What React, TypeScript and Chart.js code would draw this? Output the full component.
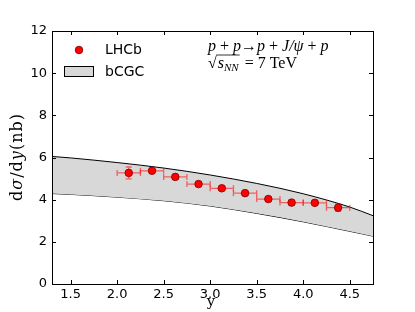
import React, { useEffect, useRef } from "react";
import { Chart, registerables } from "chart.js";

Chart.register(...registerables);

// LHCb data
const xValues = [2.125, 2.375, 2.625, 2.875, 3.125, 3.375, 3.625, 3.875, 4.125, 4.375];
const yValues = [5.27, 5.37, 5.08, 4.74, 4.54, 4.31, 4.03, 3.86, 3.85, 3.62];
const xErr = [0.125, 0.125, 0.125, 0.125, 0.125, 0.125, 0.125, 0.125, 0.125, 0.125];
const yErr = [0.28, 0.12, 0.1, 0.1, 0.1, 0.1, 0.1, 0.1, 0.12, 0.17];

// bCGC band
const bandX = [1.3, 1.5, 2.0, 2.5, 3.0, 3.5, 4.0, 4.5, 4.75];
const bandUpper = [6.05, 5.98, 5.76, 5.5, 5.17, 4.77, 4.28, 3.65, 3.24];
const bandLower = [4.29, 4.25, 4.12, 3.95, 3.7, 3.35, 2.95, 2.5, 2.27];

const xTicks = [1.5, 2.0, 2.5, 3.0, 3.5, 4.0, 4.5];
const yTicks = [0, 2, 4, 6, 8, 10, 12];

const SERIF = "'DejaVu Serif', 'Liberation Serif', serif";
const TSERIF = "'Liberation Serif', 'DejaVu Serif', serif";
const SANS = "'DejaVu Sans', sans-serif";

type Run = { t: string; font: string; dy?: number };

function runsWidth(ctx: CanvasRenderingContext2D, runs: Run[]) {
  let w = 0;
  for (const r of runs) {
    ctx.font = r.font;
    w += ctx.measureText(r.t).width;
  }
  return w;
}

function drawRuns(ctx: CanvasRenderingContext2D, x: number, y: number, runs: Run[]) {
  let cx = x;
  for (const r of runs) {
    ctx.font = r.font;
    ctx.fillText(r.t, cx, y + (r.dy || 0));
    cx += ctx.measureText(r.t).width;
  }
  return cx;
}

const errorBarPlugin = {
  id: "errorBars",
  beforeDatasetDraw(chart: any, args: any) {
    if (args.index !== 0) return;
    const { ctx, scales } = chart;
    const xs = scales.x;
    const ys = scales.y;
    ctx.save();
    ctx.strokeStyle = "rgba(255,0,0,0.55)";
    ctx.lineWidth = 1.3;
    const cap = 3;
    for (let i = 0; i < xValues.length; i++) {
      const px = xs.getPixelForValue(xValues[i]);
      const py = ys.getPixelForValue(yValues[i]);
      const x0 = xs.getPixelForValue(xValues[i] - xErr[i]);
      const x1 = xs.getPixelForValue(xValues[i] + xErr[i]);
      const y0 = ys.getPixelForValue(yValues[i] - yErr[i]);
      const y1 = ys.getPixelForValue(yValues[i] + yErr[i]);
      ctx.beginPath();
      ctx.moveTo(x0, py);
      ctx.lineTo(x1, py);
      ctx.moveTo(x0, py - cap);
      ctx.lineTo(x0, py + cap);
      ctx.moveTo(x1, py - cap);
      ctx.lineTo(x1, py + cap);
      ctx.moveTo(px, y0);
      ctx.lineTo(px, y1);
      ctx.moveTo(px - cap, y0);
      ctx.lineTo(px + cap, y0);
      ctx.moveTo(px - cap, y1);
      ctx.lineTo(px + cap, y1);
      ctx.stroke();
    }
    ctx.restore();
  },
};

const decorPlugin = {
  id: "decor",
  afterDraw(chart: any) {
    const { ctx, chartArea, scales } = chart;
    const { left, right, top, bottom } = chartArea;
    ctx.save();
    // frame
    ctx.strokeStyle = "#000";
    ctx.lineWidth = 1;
    ctx.strokeRect(Math.round(left) + 0.5, Math.round(top) + 0.5, Math.round(right - left), Math.round(bottom - top));
    // inward ticks
    const tl = 4;
    ctx.beginPath();
    for (const v of xTicks) {
      const px = Math.round(scales.x.getPixelForValue(v)) + 0.5;
      ctx.moveTo(px, bottom);
      ctx.lineTo(px, bottom - tl);
      ctx.moveTo(px, top);
      ctx.lineTo(px, top + tl);
    }
    for (const v of yTicks) {
      const py = Math.round(scales.y.getPixelForValue(v)) + 0.5;
      ctx.moveTo(left, py);
      ctx.lineTo(left + tl, py);
      ctx.moveTo(right, py);
      ctx.lineTo(right - tl, py);
    }
    ctx.stroke();

    // legend
    ctx.fillStyle = "#ff0000";
    ctx.strokeStyle = "#800000";
    ctx.lineWidth = 0.8;
    ctx.beginPath();
    ctx.arc(79, 50, 3.8, 0, Math.PI * 2);
    ctx.fill();
    ctx.stroke();
    ctx.lineWidth = 1;
    ctx.fillStyle = "#d8d8d8";
    ctx.fillRect(64, 66, 29, 11);
    ctx.strokeStyle = "#000";
    ctx.strokeRect(64.5, 66.5, 29, 10);
    ctx.fillStyle = "#000";
    ctx.font = `14px ${SANS}`;
    ctx.textBaseline = "middle";
    ctx.textAlign = "left";
    ctx.fillText("LHCb", 105, 50);
    ctx.fillText("bCGC", 105, 72);

    // annotation
    ctx.textBaseline = "alphabetic";
    const it = `italic 16px ${TSERIF}`;
    const rm = `16px ${TSERIF}`;
    drawRuns(ctx, 208, 51, [
      { t: "p", font: it },
      { t: " + ", font: rm },
      { t: "p", font: it },
      { t: "\u2192", font: rm },
      { t: "p", font: it },
      { t: " + ", font: rm },
      { t: "J/\u03c8", font: it },
      { t: " + ", font: rm },
      { t: "p", font: it },
    ]);
    // sqrt(s_NN) = 7 TeV
    ctx.font = rm;
    const sx = 208;
    const by = 68;
    ctx.fillText("\u221a", sx, by);
    const sw = ctx.measureText("\u221a").width;
    const endX = drawRuns(ctx, sx + sw + 1, by, [
      { t: "s", font: it },
      { t: "NN", font: `italic 11px ${TSERIF}`, dy: 3 },
    ]);
    ctx.beginPath();
    ctx.lineWidth = 0.8;
    ctx.moveTo(sx + sw - 0.5, by - 13);
    ctx.lineTo(endX + 1, by - 13);
    ctx.stroke();
    drawRuns(ctx, endX + 2, by, [{ t: " = 7 TeV", font: rm }]);

    // y label
    const yf = `16px ${SERIF}`;
    const yfi = `italic 16px ${SERIF}`;
    const yl: Run[] = [
      { t: "d", font: yf },
      { t: "\u03c3", font: yfi },
      { t: "/", font: yf },
      { t: "d", font: yf },
      { t: "y", font: yfi },
      { t: "(nb)", font: yf },
    ];
    ctx.save();
    ctx.translate(18, 157);
    ctx.rotate(-Math.PI / 2);
    ctx.textBaseline = "middle";
    (ctx as any).letterSpacing = "1px";
    const w = runsWidth(ctx, yl);
    drawRuns(ctx, -w / 2, 0, yl);
    ctx.restore();

    // x label
    ctx.font = `15px ${SERIF}`;
    ctx.textAlign = "center";
    ctx.textBaseline = "middle";
    ctx.fillText("y", 211, 302);
    ctx.restore();
  },
};

export default function App() {
  const ref = useRef<HTMLCanvasElement | null>(null);
  useEffect(() => {
    if (!ref.current) return;
    const chart = new Chart(ref.current, {
      type: "scatter",
      data: {
        datasets: [
          {
            type: "scatter",
            label: "LHCb",
            data: xValues.map((x, i) => ({ x, y: yValues[i] })),
            pointRadius: 3.8,
            pointBackgroundColor: "#ff0000",
            pointBorderColor: "#800000",
            pointBorderWidth: 0.8,
          },
          {
            type: "line",
            label: "bCGC",
            data: bandX.map((x, i) => ({ x, y: bandUpper[i] })),
            borderColor: "#000",
            borderWidth: 1,
            pointRadius: 0,
            cubicInterpolationMode: "monotone",
            backgroundColor: "#d8d8d8",
            fill: "+1",
          },
          {
            type: "line",
            label: "bCGC lower",
            data: bandX.map((x, i) => ({ x, y: bandLower[i] })),
            borderColor: "#000",
            borderWidth: 1,
            pointRadius: 0,
            cubicInterpolationMode: "monotone",
            fill: false,
          },
        ] as any,
      },
      options: {
        responsive: false,
        animation: false,
        devicePixelRatio: 1,
        layout: { padding: { top: 31, right: 42, left: 0, bottom: 0 } },
        plugins: { legend: { display: false }, tooltip: { enabled: false } },
        scales: {
          x: {
            type: "linear",
            min: 1.3,
            max: 4.75,
            grid: { display: false, drawTicks: false },
            border: { display: false },
            afterBuildTicks: (s: any) => {
              s.ticks = xTicks.map((v) => ({ value: v }));
            },
            afterFit: (s: any) => {
              s.height = 28;
            },
            ticks: {
              padding: 3,
              color: "#000",
              font: { family: "DejaVu Sans", size: 13 },
              maxRotation: 0,
              callback: (v: any) => Number(v).toFixed(1),
            },
          },
          y: {
            type: "linear",
            min: 0,
            max: 12,
            grid: { display: false, drawTicks: false },
            border: { display: false },
            afterBuildTicks: (s: any) => {
              s.ticks = yTicks.map((v) => ({ value: v }));
            },
            afterFit: (s: any) => {
              s.width = 52;
            },
            ticks: {
              padding: 5,
              color: "#000",
              font: { family: "DejaVu Sans", size: 13 },
              callback: (v: any) => String(v),
            },
          },
        },
      },
      plugins: [errorBarPlugin, decorPlugin],
    });
    return () => chart.destroy();
  }, []);
  return (
    <div style={{ position: "absolute", left: 0, top: 0, width: 415, height: 312, background: "#fff" }}>
      <canvas ref={ref} width={415} height={312} style={{ width: 415, height: 312, display: "block" }} />
    </div>
  );
}
